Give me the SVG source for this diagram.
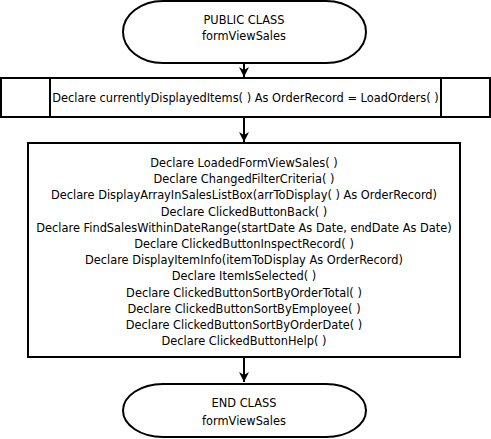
<svg xmlns="http://www.w3.org/2000/svg" width="491" height="439" viewBox="0 0 491 439">
<defs>
<style>
.sh{fill:#fff;stroke:#000;stroke-width:2}
.ln{fill:none;stroke:#000;stroke-width:2}
text{font-family:"DejaVu Sans",sans-serif;font-size:11.4px;fill:#000;text-anchor:middle}
</style>
<marker id="ah" viewBox="0 0 10 10" refX="10" refY="5" markerWidth="10" markerHeight="10" markerUnits="userSpaceOnUse" orient="auto">
<path d="M0,0 L10,5 L0,10 L3,5 z" fill="#000"/>
</marker>
</defs>
<g id="connectors">
<line class="ln" x1="244" y1="63" x2="244" y2="77" marker-end="url(#ah)"/>
<line class="ln" x1="244" y1="118" x2="244" y2="142" marker-end="url(#ah)"/>
<line class="ln" x1="244" y1="357" x2="244" y2="382" marker-end="url(#ah)"/>
</g>
<g id="start">
<rect class="sh" x="123" y="1" width="243" height="62" rx="40" ry="31"/>
<text x="244" y="24">PUBLIC CLASS</text>
<text x="244" y="40">formViewSales</text>
</g>
<g id="declare-items">
<rect class="sh" x="1" y="78" width="489" height="39"/>
<line class="ln" x1="50" y1="78" x2="50" y2="117"/>
<line class="ln" x1="441" y1="78" x2="441" y2="117"/>
<text x="245.5" y="102">Declare currentlyDisplayedItems( ) As OrderRecord = LoadOrders( )</text>
</g>
<g id="declare-methods">
<rect class="sh" x="28" y="143" width="432" height="214"/>
<text x="244" y="167">Declare LoadedFormViewSales( )</text>
<text x="244" y="183.2">Declare ChangedFilterCriteria( )</text>
<text x="244" y="199.4">Declare DisplayArrayInSalesListBox(arrToDisplay( ) As OrderRecord)</text>
<text x="244" y="215.6">Declare ClickedButtonBack( )</text>
<text x="244" y="231.8">Declare FindSalesWithinDateRange(startDate As Date, endDate As Date)</text>
<text x="244" y="248">Declare ClickedButtonInspectRecord( )</text>
<text x="244" y="264.2">Declare DisplayItemInfo(itemToDisplay As OrderRecord)</text>
<text x="244" y="280.4">Declare ItemIsSelected( )</text>
<text x="244" y="296.6">Declare ClickedButtonSortByOrderTotal( )</text>
<text x="244" y="312.8">Declare ClickedButtonSortByEmployee( )</text>
<text x="244" y="329">Declare ClickedButtonSortByOrderDate( )</text>
<text x="244" y="345.2">Declare ClickedButtonHelp( )</text>
</g>
<g id="end">
<rect class="sh" x="123" y="384" width="243" height="53" rx="40" ry="26.5"/>
<text x="244" y="407">END CLASS</text>
<text x="244" y="425">formViewSales</text>
</g>
</svg>
